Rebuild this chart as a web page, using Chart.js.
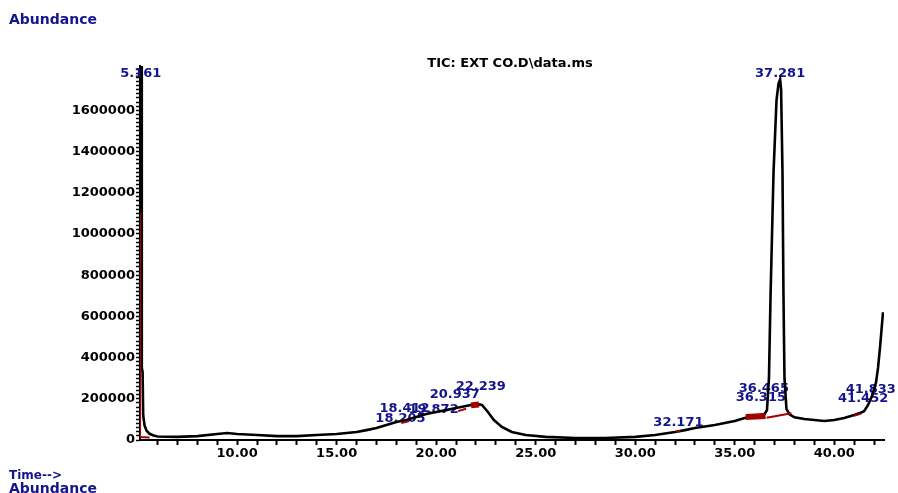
<!DOCTYPE html>
<html>
<head>
<meta charset="utf-8">
<title>TIC: EXT CO.D\data.ms</title>
<script src="https://cdn.jsdelivr.net/npm/chart.js@4/dist/chart.umd.min.js"></script>
<style>
  html, body { margin: 0; padding: 0; background: #ffffff; }
  #wrap { width: 898px; height: 493px; position: relative; }
</style>
</head>
<body>
<div id="wrap"><canvas id="tic" width="898" height="493"></canvas></div>
<script>
// Total ion chromatogram: retention time (min) against abundance
const traceTime = [
  5.13, 5.161, 5.19, 5.21, 5.25, 5.28, 5.35, 5.45, 5.6, 5.8,
  6.0, 7.0, 8.0, 9.0, 9.5, 10.0, 11.0, 12.0, 13.0, 14.0,
  15.0, 16.0, 16.5, 17.0, 17.5, 18.0, 18.5, 19.0, 19.5, 20.0,
  20.5, 21.0, 21.5, 22.0, 22.3, 22.6, 22.9, 23.3, 23.8, 24.5,
  25.5, 27.0, 28.5, 30.0, 31.0, 32.0, 32.5, 33.0, 34.0, 35.0,
  35.5, 36.0, 36.5, 36.62, 36.72, 36.8, 36.95, 37.1, 37.2, 37.281,
  37.33, 37.4, 37.45, 37.5, 37.6, 37.75, 38.0, 38.5, 39.0, 39.5,
  40.0, 40.5, 41.0, 41.3, 41.5, 41.7, 41.9, 42.1, 42.2, 42.3,
  42.45
];
const traceAbund = [
  1950000, 2100000, 1950000, 350000, 330000, 120000, 70000, 45000, 30000, 22000,
  17000, 15000, 19000, 29000, 34000, 29000, 24000, 19000, 19000, 24000,
  29000, 39000, 48000, 58000, 73000, 87000, 97000, 112000, 126000, 136000,
  145000, 155000, 165000, 175000, 170000, 136000, 97000, 63000, 39000, 24000,
  15000, 10000, 10000, 15000, 24000, 39000, 48000, 58000, 73000, 92000,
  107000, 116000, 126000, 145000, 300000, 700000, 1300000, 1650000, 1730000, 1750000,
  1700000, 1300000, 700000, 300000, 150000, 125000, 110000, 102000, 97000, 92000,
  97000, 107000, 121000, 131000, 140000, 170000, 215000, 280000, 350000, 450000,
  620000
];

// Integration baselines (null breaks a segment)
const baseTime  = [5.125, 5.125, 5.6, null, 18.25, 18.65, null, 21.1, 21.5, null, 32.05, 32.25, null, 36.6, 37.85, null, 41.0, 41.35];
const baseAbund = [1100000, 15000, 12000, null, 82000, 92000, null, 140000, 152000, null, 40000, 44000, null, 108000, 130000, null, 118000, 128000];
const blockTime  = [35.55, 36.55, null, 21.75, 22.15];
const blockAbund = [112000, 116000, null, 168000, 172000];

// Peak retention-time labels and the abundance level each is written at
const peakLabels = ['18.205', '18.412', '19.872', '20.937', '22.239', '32.171', '36.315', '36.465', '41.452', '41.833', '5.161', '37.281'];
const peakTimes  = [18.205, 18.412, 19.872, 20.937, 22.239, 32.171, 36.315, 36.465, 41.452, 41.833, 5.161, 37.281];
const peakLevels = [102000, 150000, 146000, 218000, 257000, 82500, 204000, 247500, 199000, 243000, 1776000, 1776000];

// Axis ticks
const yMax = 1815000;
const yTopLabel = 1600000;
const yLabelStep = 200000;
const yMinorStep = 20000;
const xLabelStep = 5;
const xMinorStep = 1;

const FONT = "'DejaVu Sans', 'Liberation Sans', sans-serif";
const BLUE = '#14148e';
const RED = '#a30000';

function pairs(xs, ys) {
  return xs.map((x, i) => (x === null ? { x: NaN, y: null } : { x: x, y: ys[i] }));
}

function isMultiple(v, step) {
  const q = v / step;
  return Math.abs(q - Math.round(q)) < 1e-6;
}

const annotations = {
  id: 'annotations',
  beforeDatasetsDraw(chart) {
    const { ctx, scales } = chart;
    ctx.save();
    ctx.font = 'bold 13px ' + FONT;
    ctx.fillStyle = BLUE;
    ctx.textAlign = 'center';
    ctx.textBaseline = 'middle';
    peakLabels.forEach((txt, i) => {
      const px = scales.x.getPixelForValue(peakTimes[i]);
      const py = scales.y.getPixelForValue(peakLevels[i]);
      ctx.fillText(txt, px, py);
    });
    ctx.restore();
  },
  afterDraw(chart) {
    const { ctx } = chart;
    ctx.save();
    ctx.fillStyle = BLUE;
    ctx.textAlign = 'left';
    ctx.textBaseline = 'alphabetic';
    ctx.font = 'bold 14px ' + FONT;
    ctx.fillText('Abundance', 9, 24);
    ctx.font = 'bold 12px ' + FONT;
    ctx.fillText('Time-->', 9, 479);
    ctx.font = 'bold 14px ' + FONT;
    ctx.fillText('Abundance', 9, 493);
    ctx.fillStyle = '#000000';
    ctx.font = 'bold 13px ' + FONT;
    ctx.textAlign = 'center';
    ctx.fillText('TIC: EXT CO.D\\data.ms', 510, 67);
    ctx.restore();
  }
};

new Chart(document.getElementById('tic'), {
  type: 'line',
  data: {
    datasets: [
      {
        label: 'baseline',
        data: pairs(baseTime, baseAbund),
        borderColor: RED,
        borderWidth: 2,
        pointRadius: 0,
        spanGaps: false,
        tension: 0
      },
      {
        label: 'baseline block',
        data: pairs(blockTime, blockAbund),
        borderColor: RED,
        borderWidth: 6,
        pointRadius: 0,
        spanGaps: false,
        tension: 0
      },
      {
        label: 'TIC',
        data: pairs(traceTime, traceAbund),
        borderColor: '#000000',
        borderWidth: 2.6,
        pointRadius: 0,
        tension: 0
      }
    ]
  },
  options: {
    responsive: false,
    animation: false,
    devicePixelRatio: 1,
    layout: { padding: { left: 0, top: 66, right: 14, bottom: 0 } },
    plugins: {
      legend: { display: false },
      title: { display: false },
      tooltip: { enabled: false }
    },
    scales: {
      x: {
        type: 'linear',
        min: 5.12,
        max: 42.5,
        afterFit(scale) { scale.height = 53; },
        border: { display: true, color: '#000000', width: 2 },
        grid: { drawOnChartArea: false, drawTicks: true, tickLength: 5, tickColor: '#000000', tickWidth: 2 },
        ticks: {
          stepSize: xMinorStep,
          includeBounds: false,
          autoSkip: false,
          maxRotation: 0,
          padding: 1,
          color: '#000000',
          font: { family: FONT, size: 13, weight: 'bold' },
          callback: (v) => (isMultiple(v, xLabelStep) ? Number(v).toFixed(2) : '')
        }
      },
      y: {
        type: 'linear',
        min: 0,
        max: yMax,
        afterFit(scale) { scale.width = 140; },
        afterBuildTicks(scale) {
          const ticks = [];
          for (let v = 0; v <= yMax; v += yMinorStep) ticks.push({ value: v });
          scale.ticks = ticks;
        },
        border: { display: true, color: '#000000', width: 2 },
        grid: { drawOnChartArea: false, drawTicks: true, tickLength: 4, tickColor: '#000000', tickWidth: 1.5 },
        ticks: {
          autoSkip: false,
          padding: 1,
          color: '#000000',
          font: { family: FONT, size: 13, weight: 'bold' },
          callback: (v) => (isMultiple(v, yLabelStep) && v <= yTopLabel ? String(Math.round(v)) : '')
        }
      }
    }
  },
  plugins: [annotations]
});
</script>
</body>
</html>
